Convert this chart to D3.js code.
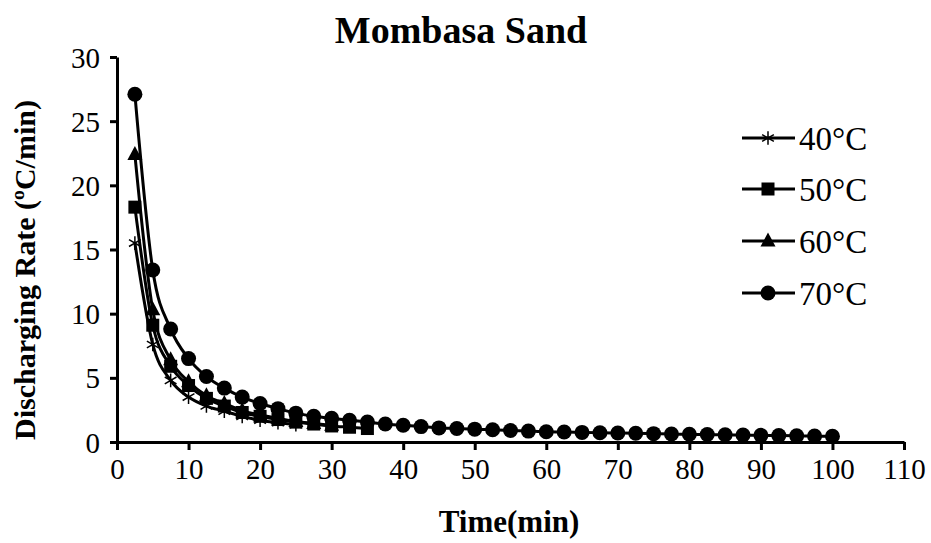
<!DOCTYPE html>
<html>
<head>
<meta charset="utf-8">
<script src="https://cdn.jsdelivr.net/npm/d3@7"></script>
<style>
  body { margin: 0; background: #fff; }
  text { font-family: "Liberation Serif", "Times New Roman", serif; fill: #000; }
</style>
</head>
<body>
<div id="wrapper"></div>
<script>
// data
const time40 = [2.5, 5, 7.5, 10, 12.5, 15, 17.5, 20, 22.5, 25];
const rate40 = [15.5, 7.6, 4.8, 3.5, 2.8, 2.4, 2.0, 1.7, 1.5, 1.35];

const time50 = [2.5, 5, 7.5, 10, 12.5, 15, 17.5, 20, 22.5, 25, 27.5, 30, 32.5, 35];
const rate50 = [18.3, 9.1, 5.9, 4.4, 3.4, 2.8, 2.3, 2.0, 1.75, 1.55, 1.4, 1.25, 1.15, 1.05];

const time60 = [2.5, 5, 7.5, 10, 12.5, 15, 17.5, 20, 22.5, 25, 27.5, 30];
const rate60 = [22.4, 10.3, 6.4, 4.7, 3.6, 3.0, 2.45, 2.1, 1.85, 1.6, 1.45, 1.3];

const time70 = [2.5, 5, 7.5, 10, 12.5, 15, 17.5, 20, 22.5, 25, 27.5, 30, 32.5, 35, 37.5, 40,
  42.5, 45, 47.5, 50, 52.5, 55, 57.5, 60, 62.5, 65, 67.5, 70, 72.5, 75, 77.5, 80, 82.5, 85,
  87.5, 90, 92.5, 95, 97.5, 100];
const rate70 = [27.1, 13.4, 8.8, 6.5, 5.1, 4.2, 3.5, 3.0, 2.6, 2.25, 2.0, 1.85, 1.7, 1.55, 1.4, 1.3,
  1.2, 1.1, 1.05, 1.0, 0.95, 0.9, 0.85, 0.8, 0.78, 0.75, 0.72, 0.7, 0.68, 0.65, 0.62, 0.6, 0.58, 0.56,
  0.54, 0.52, 0.5, 0.48, 0.46, 0.45];

const seriesNames = ['40°C', '50°C', '60°C', '70°C'];
const xTicks = [0, 10, 20, 30, 40, 50, 60, 70, 80, 90, 100, 110];
const yTicks = [0, 5, 10, 15, 20, 25, 30];

const width = 931;
const height = 543;
const margin = { top: 57, right: 27, bottom: 101, left: 117 };

const svg = d3.select('#wrapper')
  .append('svg')
  .attr('width', width)
  .attr('height', height);

const x = d3.scaleLinear().domain([0, 110]).range([margin.left, width - margin.right]);
const y = d3.scaleLinear().domain([0, 30]).range([height - margin.bottom, margin.top]);

// axes
const xAxis = svg.append('g')
  .attr('transform', `translate(0,${y(0)})`)
  .call(d3.axisBottom(x).tickValues(xTicks).tickSize(8).tickPadding(8).tickSizeOuter(0));
const yAxis = svg.append('g')
  .attr('transform', `translate(${x(0)},0)`)
  .call(d3.axisLeft(y).tickValues(yTicks).tickSize(7).tickPadding(10).tickSizeOuter(0));

[xAxis, yAxis].forEach(a => {
  a.select('.domain').attr('stroke', '#000').attr('stroke-width', 3);
  a.selectAll('.tick line').attr('stroke', '#000').attr('stroke-width', 3);
  a.selectAll('.tick text').style('font-size', '29px').style('font-family', '"Liberation Serif", serif');
});
yAxis.selectAll('.tick text').attr('dy', '0.35em');

// series
const series = [
  { name: seriesNames[0], t: time40, v: rate40, mark: 'asterisk' },
  { name: seriesNames[1], t: time50, v: rate50, mark: 'square' },
  { name: seriesNames[2], t: time60, v: rate60, mark: 'triangle' },
  { name: seriesNames[3], t: time70, v: rate70, mark: 'circle' }
];

const line = d3.line()
  .x(d => x(d[0]))
  .y(d => y(d[1]))
  .curve(d3.curveMonotoneX);

function drawMark(g, kind, cx, cy) {
  if (kind === 'asterisk') {
    g.append('path')
      .attr('d', d3.symbol(d3.symbolAsterisk, 130)())
      .attr('transform', `translate(${cx},${cy})`)
      .attr('fill', 'none').attr('stroke', '#000').attr('stroke-width', 1.5);
  } else if (kind === 'square') {
    g.append('rect')
      .attr('x', cx - 6.5).attr('y', cy - 6.5)
      .attr('width', 13).attr('height', 13)
      .attr('fill', '#000');
  } else if (kind === 'triangle') {
    g.append('path')
      .attr('d', `M${cx},${cy - 8.5}L${cx + 7.5},${cy + 5.5}L${cx - 7.5},${cy + 5.5}Z`)
      .attr('fill', '#000');
  } else {
    g.append('circle').attr('cx', cx).attr('cy', cy).attr('r', 7.5).attr('fill', '#000');
  }
}

series.forEach(s => {
  const pts = s.t.map((t, i) => [t, s.v[i]]);
  const g = svg.append('g');
  g.append('path')
    .datum(pts)
    .attr('d', line)
    .attr('fill', 'none')
    .attr('stroke', '#000')
    .attr('stroke-width', 3);
  pts.forEach(p => drawMark(g, s.mark, x(p[0]), y(p[1])));
});

// legend
const legendY = [138, 189, 241, 293];
series.forEach((s, i) => {
  const g = svg.append('g');
  g.append('line')
    .attr('x1', 742).attr('x2', 795)
    .attr('y1', legendY[i]).attr('y2', legendY[i])
    .attr('stroke', '#000').attr('stroke-width', 3);
  drawMark(g, s.mark, 768, legendY[i]);
  g.append('text')
    .attr('x', 799).attr('y', legendY[i])
    .attr('dy', '0.35em')
    .style('font-size', '33px')
    .text(s.name);
});

// titles
svg.append('text')
  .attr('x', 461).attr('y', 43)
  .attr('text-anchor', 'middle')
  .style('font-size', '38px').style('font-weight', 'bold')
  .text('Mombasa Sand');

svg.append('text')
  .attr('x', 509).attr('y', 532)
  .attr('text-anchor', 'middle')
  .style('font-size', '31px').style('font-weight', 'bold')
  .text('Time(min)');

svg.append('text')
  .attr('transform', `translate(24,270) rotate(-90)`)
  .attr('text-anchor', 'middle')
  .attr('dy', '0.35em')
  .style('font-size', '30px').style('font-weight', 'bold')
  .text('Discharging Rate (ºC/min)');
</script>
</body>
</html>
